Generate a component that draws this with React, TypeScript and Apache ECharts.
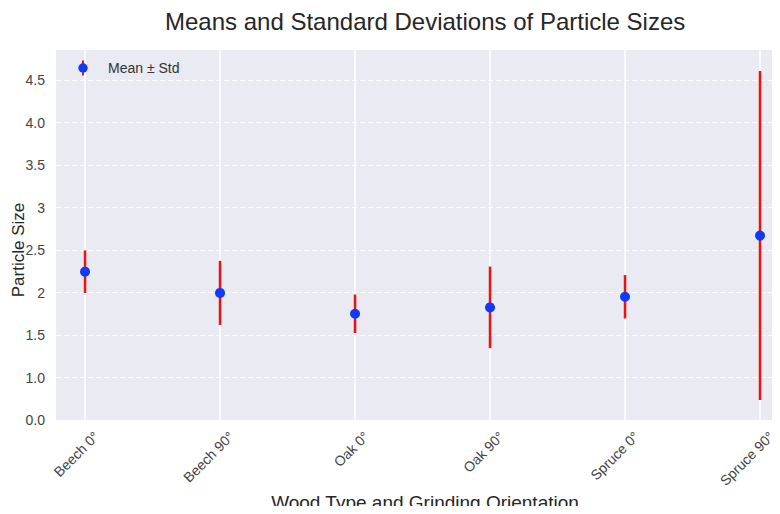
import React, { useEffect, useRef } from "react";
import * as echarts from "echarts";

const categories = ["Beech 0°", "Beech 90°", "Oak 0°", "Oak 90°", "Spruce 0°", "Spruce 90°"];
const means = [2.245, 1.995, 1.75, 1.825, 1.95, 2.67];
const stds = [0.25, 0.377, 0.226, 0.48, 0.255, 1.935];
const yTickValues = [0.5, 1.0, 1.5, 2.0, 2.5, 3.0, 3.5, 4.0, 4.5];
const yTickLabels = ["0.0", "1.0", "1.5", "2", "2.5", "3", "3.5", "4.0", "4.5"];

const TITLE = "Means and Standard Deviations of Particle Sizes";
const X_NAME = "Wood Type and Grinding Orientation";
const Y_NAME = "Particle Size";
const LEGEND_NAME = "Mean ± Std";

const RED = "#ee1111";
const BLUE = "#1038ff";
const FONT = "Liberation Sans, Arial, sans-serif";

export default function App() {
  const ref = useRef<HTMLDivElement>(null);

  useEffect(() => {
    if (!ref.current) return;
    const chart = echarts.init(ref.current, null, { renderer: "svg" });

    const iconSvg =
      `<svg xmlns='http://www.w3.org/2000/svg' width='26' height='16' viewBox='0 0 26 16'>` +
      `<line x1='6' y1='0.5' x2='6' y2='15.5' stroke='${RED}' stroke-width='2'/>` +
      `<circle cx='6' cy='8' r='4.7' fill='${BLUE}'/></svg>`;
    const icon = "image://data:image/svg+xml;charset=utf-8," + encodeURIComponent(iconSvg);

    const idx = categories.map((_, i) => i);
    const labelShift = 0.085;

    chart.setOption({
      animation: false,
      backgroundColor: "#ffffff",
      textStyle: { fontFamily: FONT },
      title: {
        text: TITLE,
        left: 160,
        top: 4,
        textStyle: { fontSize: 24, fontWeight: "normal", color: "#262626", fontFamily: FONT },
      },
      legend: {
        left: 72,
        top: 55,
        itemWidth: 26,
        itemHeight: 16,
        itemGap: 10,
        data: [{ name: LEGEND_NAME, icon }],
        textStyle: { fontSize: 14, color: "#333333", fontFamily: FONT },
      },
      grid: {
        left: 56,
        right: 0,
        top: 50,
        bottom: 94,
        outerBoundsMode: "none",
        containLabel: false,
        show: true,
        backgroundColor: "#EAEAF2",
        borderWidth: 0,
      },
      xAxis: {
        type: "value",
        min: -0.215,
        max: 5.148,
        axisLine: { show: false },
        axisTick: { show: false, customValues: idx },
        splitLine: { show: true, lineStyle: { color: "#ffffff", width: 1.5, type: "solid" } },
        axisLabel: {
          customValues: idx.map((i) => i + labelShift),
          formatter: (v: number) => categories[Math.round(v)] ?? "",
          rotate: 45,
          margin: 14,
          fontSize: 14,
          color: "#444444",
          fontFamily: FONT,
        },
      },
      yAxis: {
        type: "value",
        min: 0.5,
        max: 4.853,
        axisLine: { show: false },
        axisTick: { show: false, customValues: yTickValues },
        splitLine: { show: true, lineStyle: { color: "#ffffff", width: 1, type: [5, 3] } },
        axisLabel: {
          customValues: yTickValues,
          formatter: (v: number) => {
            const k = yTickValues.findIndex((t) => Math.abs(t - v) < 1e-6);
            return k >= 0 ? yTickLabels[k] : "";
          },
          margin: 11,
          fontSize: 14,
          color: "#444444",
          fontFamily: FONT,
        },
      },
      graphic: [
        {
          type: "text",
          x: 18,
          y: 250,
          rotation: Math.PI / 2,
          style: {
            text: Y_NAME,
            align: "center",
            verticalAlign: "middle",
            fontSize: 17,
            fontFamily: FONT,
            fill: "#262626",
          },
        },
        {
          type: "text",
          x: 425,
          y: 502,
          style: {
            text: X_NAME,
            align: "center",
            verticalAlign: "middle",
            fontSize: 19,
            fontFamily: FONT,
            fill: "#262626",
          },
        },
      ],
      series: [
        {
          type: "custom",
          name: "errbar",
          data: idx.map((i) => [i, means[i] - stds[i], means[i] + stds[i]]),
          encode: { x: 0, y: [1, 2] },
          z: 2,
          renderItem: (params: any, api: any) => {
            const x = api.value(0);
            const lo = api.coord([x, api.value(1)]);
            const hi = api.coord([x, api.value(2)]);
            return {
              type: "line",
              shape: { x1: lo[0], y1: lo[1], x2: hi[0], y2: hi[1] },
              style: { stroke: RED, lineWidth: 2.5 },
            };
          },
        },
        {
          type: "scatter",
          name: LEGEND_NAME,
          data: idx.map((i) => [i, means[i]]),
          symbol: "circle",
          symbolSize: 10,
          itemStyle: { color: BLUE, opacity: 1 },
          z: 3,
        },
      ],
    });

    return () => chart.dispose();
  }, []);

  return <div ref={ref} style={{ width: 780, height: 514, margin: -8 }} />;
}
